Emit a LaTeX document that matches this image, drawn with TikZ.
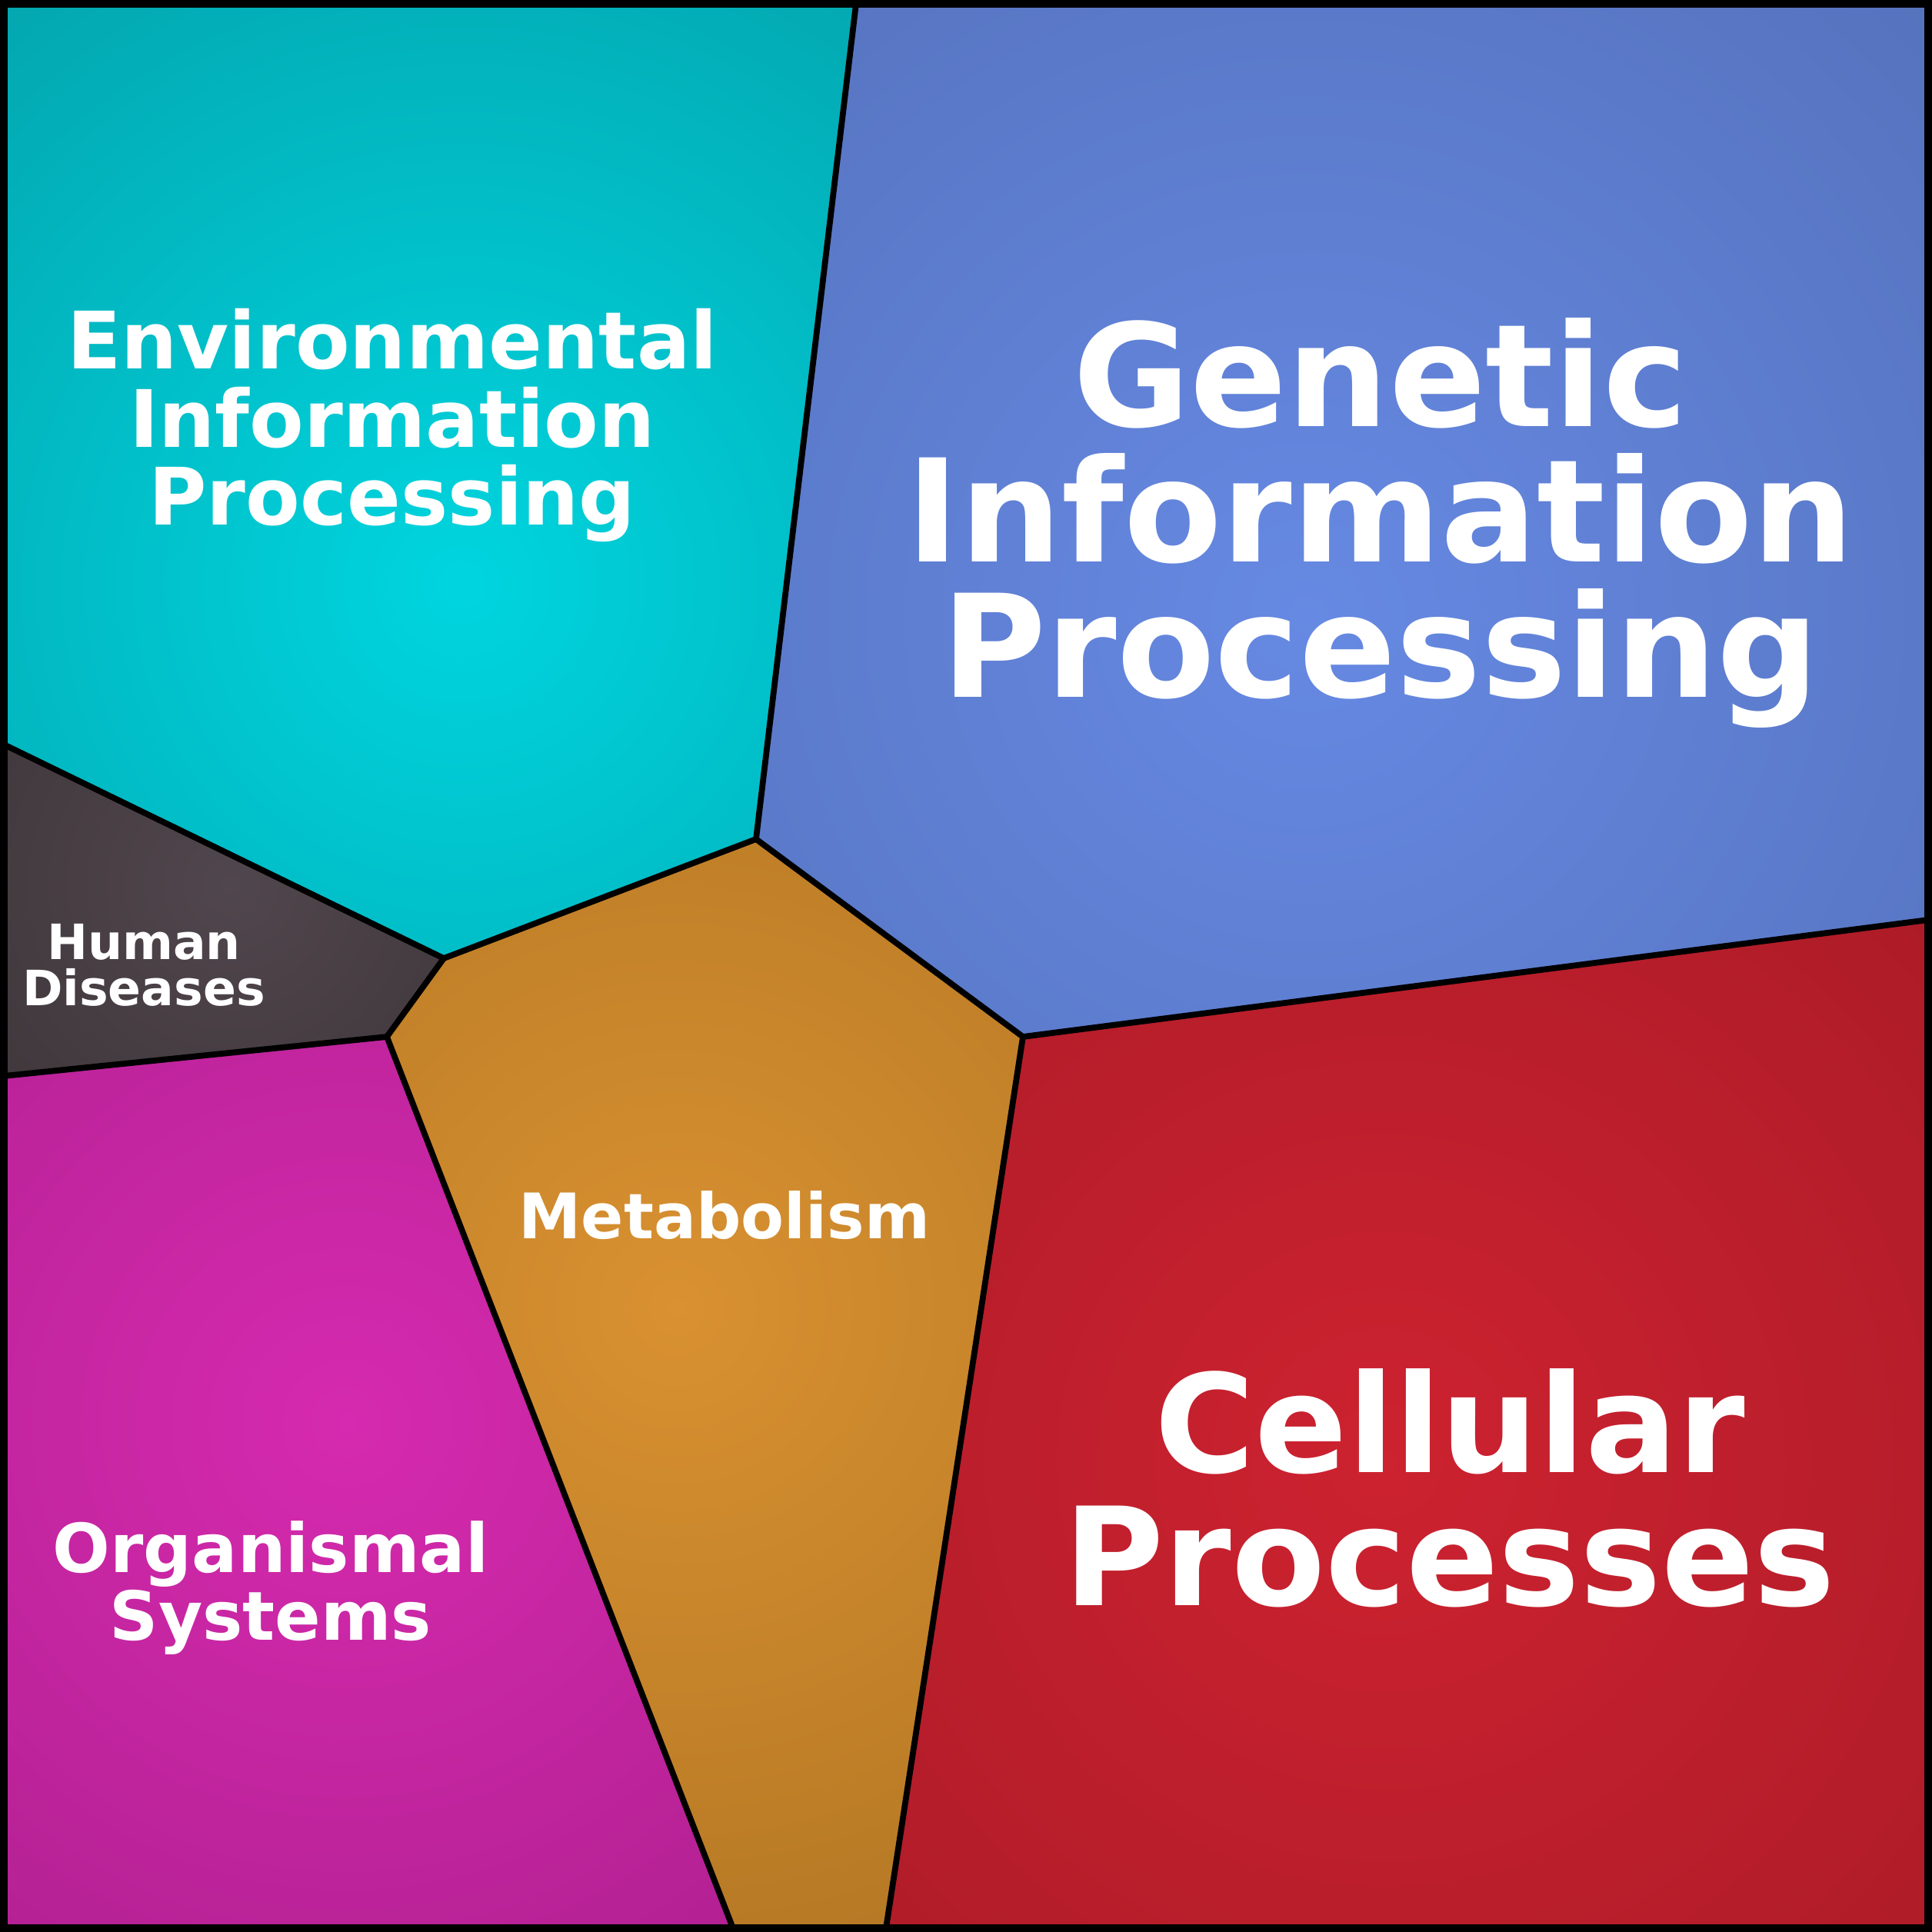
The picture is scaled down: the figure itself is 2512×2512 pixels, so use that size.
\documentclass[tikz,border=0pt]{standalone}
\usepackage{fontspec}
\setmainfont{DejaVu Sans}
\definecolor{envI}{HTML}{00D5DF}\definecolor{envO}{HTML}{03A5AE}
\definecolor{genI}{HTML}{6689E3}\definecolor{genO}{HTML}{536FB8}
\definecolor{humI}{HTML}{50464D}\definecolor{humO}{HTML}{3C3437}
\definecolor{metI}{HTML}{D99131}\definecolor{metO}{HTML}{B27623}
\definecolor{orgI}{HTML}{D62AAF}\definecolor{orgO}{HTML}{AC1F8D}
\definecolor{celI}{HTML}{CD2230}\definecolor{celO}{HTML}{A71A26}
\begin{document}
\begin{tikzpicture}[x=0.01cm,y=-0.01cm,
 lbl/.style={text=white,font=\bfseries,align=center,inner sep=0pt},
 edge/.style={line width=2.2pt,black,line join=round}]
\useasboundingbox (0,0) rectangle (2512,2512);
\def\region#1#2#3#4#5#6{\begin{scope}\clip #1;\shade[inner color=#4,outer color=#5] (#2,#3) circle (#6);\end{scope}}
\region{(0,0)--(1113,0)--(983,1091)--(577,1246)--(0,968)--cycle}{600}{760}{envI}{envO}{1000}
\region{(1113,0)--(2512,0)--(2512,1196)--(1330,1348)--(983,1091)--cycle}{1700}{800}{genI}{genO}{1300}
\region{(0,968)--(577,1246)--(503,1348)--(0,1399)--cycle}{300}{1150}{humI}{humO}{500}
\region{(0,1399)--(503,1348)--(953,2512)--(0,2512)--cycle}{450}{1850}{orgI}{orgO}{1000}
\region{(577,1246)--(983,1091)--(1330,1348)--(1152,2512)--(953,2512)--(503,1348)--cycle}{880}{1700}{metI}{metO}{950}
\region{(1330,1348)--(2512,1196)--(2512,2512)--(1152,2512)--cycle}{1800}{1900}{celI}{celO}{1200}
\coordinate (a) at (1113,5); \coordinate (b) at (983,1091); \coordinate (c) at (577,1246);
\coordinate (d) at (5,968); \coordinate (e) at (503,1348); \coordinate (f) at (5,1399);
\coordinate (g) at (1330,1348); \coordinate (h) at (2507,1196); \coordinate (i) at (953,2507);
\coordinate (j) at (1152,2507);
\draw[edge] (a)--(b)--(c)--(d); \draw[edge] (c)--(e)--(f); \draw[edge] (b)--(g)--(h);
\draw[edge] (e)--(i); \draw[edge] (g)--(j);
\draw[line width=2.8pt] (5,5) rectangle (2507,2507);
\node[lbl,font=\bfseries\fontsize{29.3}{28.8}\selectfont] (env) at (510,553) {Environmental\\Information\\Processing};
\node[lbl,font=\bfseries\fontsize{52.8}{50}\selectfont] (gen) at (1795,680) {Genetic\\Information\\Processing};
\node[lbl,font=\bfseries\fontsize{18}{17}\selectfont] (hum) at (187,1255) {Human\\Diseases};
\node[lbl,font=\bfseries\fontsize{23.2}{23}\selectfont] (met) at (942,1580) {Metabolism};
\node[lbl,font=\bfseries\fontsize{25}{25}\selectfont] (org) at (352,2065) {Organismal\\Systems};
\node[lbl,font=\bfseries\fontsize{50.5}{49.3}\selectfont] (cel) at (1885,1935) {Cellular\\Processes};
\end{tikzpicture}
\end{document}
